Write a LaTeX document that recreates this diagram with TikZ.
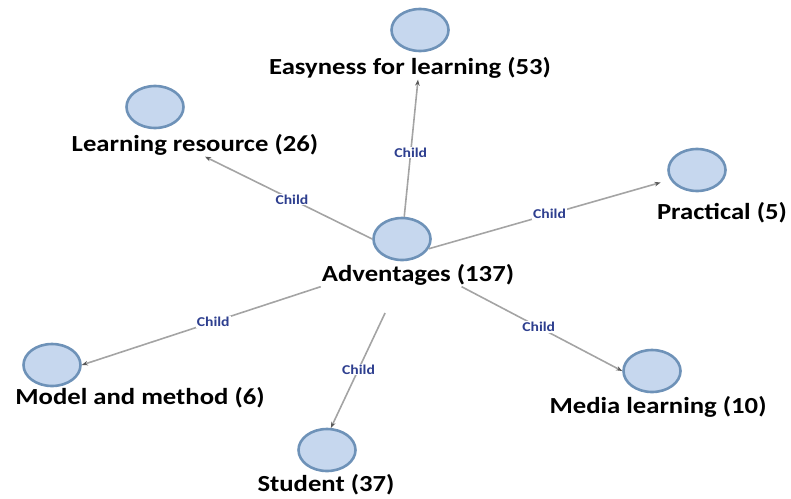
\documentclass[tikz,border=0pt]{standalone}
\usepackage{fontspec}
\setmainfont{Carlito}[FakeStretch=1.16]
\usetikzlibrary{arrows.meta,shapes.geometric}
\definecolor{bubblefill}{HTML}{C6D7EE}
\definecolor{bubbleline}{HTML}{6E92B8}
\definecolor{childblue}{HTML}{2E3F8F}
\definecolor{linkgray}{HTML}{A4A4A4}
\begin{document}
\begin{tikzpicture}[x=1pt,y=-1pt,
    bubble/.style =
    {   shape=ellipse, draw=bubbleline, fill=bubblefill,
        line width=2.6pt,
        minimum width=57pt, minimum height=42pt,
     },
    caption/.style =
    {   inner sep=1pt,
        font=\fontsize{23}{26}\selectfont\bfseries,
     },
    link/.style =
    {   draw=linkgray, line width=1.6pt,
        -{Stealth[length=6pt,width=4.5pt,color=black!65]},
     },
    tag/.style =
    {   fill=white, inner sep=1pt, text=childblue,
        font=\fontsize{13.5}{15}\selectfont\bfseries,
     }  ]
\useasboundingbox (0,0) rectangle (791,498);
% bubbles
\node[bubble] (adv)   at (402,239) {};
\node[bubble] (easy)  at (420,30)  {};
\node[bubble] (res)   at (155,107) {};
\node[bubble] (prac)  at (697,170) {};
\node[bubble] (model) at (52,365)  {};
\node[bubble] (stud)  at (327,450) {};
\node[bubble] (media) at (652,371) {};
% captions
\node[caption] (advT)   at (418,275) {Adventages (137)};
\node[caption] (easyT)  at (410,68)  {Easyness for learning (53)};
\node[caption] (resT)   at (195,145) {Learning resource (26)};
\node[caption] (pracT)  at (722,213) {Practical (5)};
\node[caption] (modelT) at (140,398) {Model and method (6)};
\node[caption] (studT)  at (326,485) {Student (37)};
\node[caption] (mediaT) at (658,407) {Media learning (10)};
% links
\draw[link] (adv) -- node[tag,pos=0.47] {Child} ([xshift=8pt]easyT.south);
\draw[link] (adv.west) -- node[tag,pos=0.48] {Child} ([xshift=10pt]resT.south);
\draw[link,shorten >=10pt] (adv.-20) -- node[tag,pos=0.5] {Child} (prac.200);
\draw[link] (advT.south west) -- node[tag,pos=0.45] {Child} (model.east);
\draw[link,shorten <=58pt] (adv.-70) -- node[tag,pos=0.65] {Child} (stud.80);
\draw[link] (advT.-15) -- node[tag,pos=0.48] {Child} (media.west);
\end{tikzpicture}
\end{document}
